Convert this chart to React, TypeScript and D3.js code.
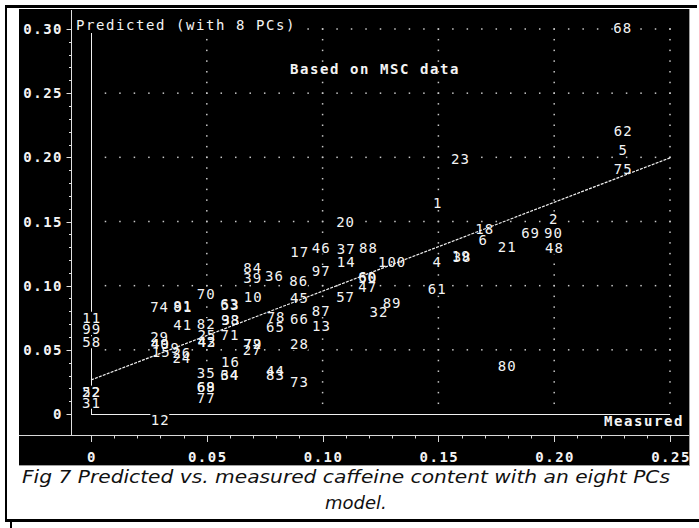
import React from "react";
import * as d3 from "d3";

// ---- data (sample id, measured caffeine, predicted caffeine) ----
const sampleIds = [
  "68", "62", "5", "75", "2", "90", "48", "69", "23", "1",
  "18", "6", "21", "4", "19", "38", "100", "88", "61", "47",
  "60", "50", "89", "32", "20", "17", "46", "37", "14", "84",
  "39", "36", "86", "97", "57", "10", "45", "63", "53", "70",
  "87", "78", "65", "66", "13", "98", "33", "82", "41", "74",
  "81", "91", "71", "11", "99", "58", "29", "25", "42", "43",
  "40", "49", "15", "9", "26", "24", "35", "68", "69", "77",
  "22", "52", "31", "12", "16", "64", "34", "72", "79", "27",
  "28", "44", "83", "73", "80"
];
const measured = [
  0.2294, 0.2296, 0.2296, 0.2296, 0.1996, 0.1995, 0.1999, 0.1896, 0.1593, 0.1495,
  0.1698, 0.1691, 0.1795, 0.1493, 0.1596, 0.1600, 0.1298, 0.1196, 0.1493, 0.1193,
  0.1192, 0.1194, 0.1298, 0.1241, 0.1097, 0.0899, 0.0992, 0.1100, 0.1100, 0.0696,
  0.0696, 0.0790, 0.0895, 0.0992, 0.1097, 0.0698, 0.0898, 0.0597, 0.0599, 0.0495,
  0.0992, 0.0797, 0.0794, 0.0898, 0.0993, 0.0600, 0.0602, 0.0495, 0.0394, 0.0294,
  0.0394, 0.0395, 0.0598, 0.0001, 0.0001, 0.0001, 0.0294, 0.0498, 0.0498, 0.0499,
  0.0297, 0.0298, 0.0301, 0.0361, 0.0390, 0.0390, 0.0495, 0.0495, 0.0496, 0.0495,
  0.0000, 0.0001, 0.0000, 0.0297, 0.0600, 0.0597, 0.0598, 0.0696, 0.0697, 0.0694,
  0.0898, 0.0794, 0.0794, 0.0898, 0.1795
];
const predicted = [
  0.3005, 0.2205, 0.2057, 0.1909, 0.1520, 0.1408, 0.1294, 0.1408, 0.1985, 0.1642,
  0.1439, 0.1356, 0.1304, 0.1187, 0.1234, 0.1227, 0.1187, 0.1294, 0.0972, 0.0987,
  0.1065, 0.1061, 0.0867, 0.0797, 0.1494, 0.1265, 0.1296, 0.1283, 0.1182, 0.1135,
  0.1057, 0.1075, 0.1036, 0.1114, 0.0914, 0.0914, 0.0902, 0.0857, 0.0853, 0.0933,
  0.0803, 0.0754, 0.0680, 0.0740, 0.0686, 0.0732, 0.0736, 0.0699, 0.0694, 0.0831,
  0.0842, 0.0830, 0.0612, 0.0750, 0.0662, 0.0559, 0.0602, 0.0616, 0.0563, 0.0560,
  0.0545, 0.0542, 0.0485, 0.0514, 0.0473, 0.0434, 0.0317, 0.0213, 0.0210, 0.0122,
  0.0174, 0.0172, 0.0088, -0.0047, 0.0408, 0.0304, 0.0301, 0.0545, 0.0542, 0.0499,
  0.0545, 0.0335, 0.0304, 0.0252, 0.0374
];

const xTickValues = [0, 0.05, 0.1, 0.15, 0.2, 0.25];
const xTickLabels = ["0", "0.05", "0.10", "0.15", "0.20", "0.25"];
const yTickValues = [0, 0.05, 0.1, 0.15, 0.2, 0.25, 0.3];
const yTickLabels = ["0", "0.05", "0.10", "0.15", "0.20", "0.25", "0.30"];
const fitMeasured = [0, 0.25];
const fitPredicted = [0.0265, 0.1996];

const yLabel = "Predicted (with 8 PCs)";
const xLabel = "Measured";
const note = "Based on MSC data";
const captionLine1 = "Fig 7 Predicted vs. measured caffeine content with an eight PCs";
const captionLine2 = "model.";

const MONO = "'DejaVu Sans Mono', monospace";

export default function App() {
  const x = d3.scaleLinear().domain([0, 0.25]).range([91, 670]);
  const y = d3.scaleLinear().domain([0, 0.3]).range([414, 29]);

  const minorY = d3.range(0, 31).map((i) => i / 100);
  const minorX = d3.range(0, 26).map((i) => i / 100);

  const hDots: [number, number][] = [];
  yTickValues.slice(1).forEach((v) => {
    for (let k = 1; k <= 40; k++) hDots.push([x((k * 0.25) / 40), y(v)]);
  });
  const vDots: [number, number][] = [];
  xTickValues.slice(1).forEach((v) => {
    for (let k = 1; k <= 36; k++) vDots.push([x(v), y((k * 0.05) / 6)]);
  });

  const line = d3
    .line<number>()
    .x((d) => x(fitMeasured[d]))
    .y((d) => y(fitPredicted[d]));

  const charW = 9.43;

  return (
    <svg
      width={699}
      height={528}
      style={{ position: "absolute", left: 0, top: 0 }}
      xmlns="http://www.w3.org/2000/svg"
    >
      <rect x={0} y={0} width={699} height={528} fill="#fff" />
      {/* page frame */}
      <line x1={5} x2={697} y1={6.5} y2={6.5} stroke="#000" strokeWidth={3} />
      <line x1={6} x2={6} y1={5} y2={522} stroke="#000" strokeWidth={2} />
      <line x1={5} x2={699} y1={520.5} y2={520.5} stroke="#000" strokeWidth={3} />
      <line x1={11} x2={11} y1={522} y2={528} stroke="#000" strokeWidth={2} />

      {/* chart background */}
      <rect x={19} y={9} width={670} height={456} fill="#000" />
      <line x1={689.5} x2={689.5} y1={9} y2={466} stroke="#a0a0a0" strokeWidth={1} />
      <line x1={19} x2={690} y1={465.5} y2={465.5} stroke="#a0a0a0" strokeWidth={1} />

      {/* dotted grid */}
      {hDots.map(([cx, cy], i) => (
        <rect key={"h" + i} x={cx - 0.75} y={cy - 0.75} width={1.5} height={1.5} fill="#c8c8c8" />
      ))}
      {vDots.map(([cx, cy], i) => (
        <rect key={"v" + i} x={cx - 0.75} y={cy - 0.75} width={1.5} height={1.5} fill="#c8c8c8" />
      ))}

      {/* y axis */}
      <line x1={71.5} x2={71.5} y1={10} y2={435} stroke="#e0e0e0" strokeWidth={1} />
      {minorY.map((v, i) => (
        <line
          key={"yt" + i}
          x1={i % 5 === 0 ? 66.5 : 69}
          x2={71}
          y1={Math.round(y(v)) + 0.5}
          y2={Math.round(y(v)) + 0.5}
          stroke="#e0e0e0"
          strokeWidth={1}
        />
      ))}
      {yTickValues.map((v, i) => (
        <text
          key={"yl" + i}
          x={63}
          y={y(v) + 5}
          textAnchor="end"
          fill="#f4f4f4"
          fontFamily={MONO}
          fontWeight="bold"
          fontSize={14}
          letterSpacing={1.5}
        >
          {yTickLabels[i]}
        </text>
      ))}

      {/* x axis strip */}
      <line x1={19} x2={689} y1={435.5} y2={435.5} stroke="#d8d8d8" strokeWidth={1} />
      {minorX.map((v, i) => (
        <line
          key={"xt" + i}
          x1={Math.round(x(v)) + 0.5}
          x2={Math.round(x(v)) + 0.5}
          y1={436}
          y2={i % 5 === 0 ? 442 : 438.5}
          stroke="#d8d8d8"
          strokeWidth={1}
        />
      ))}
      {xTickValues.map((v, i) => (
        <text
          key={"xl" + i}
          x={x(v) + 1}
          y={462}
          textAnchor="middle"
          fill="#f4f4f4"
          fontFamily={MONO}
          fontWeight="bold"
          fontSize={14}
          letterSpacing={1.5}
        >
          {xTickLabels[i]}
        </text>
      ))}

      {/* origin frame */}
      <line x1={91.5} x2={91.5} y1={33} y2={415} stroke="#f0f0f0" strokeWidth={1} />
      <line x1={91} x2={670} y1={414.5} y2={414.5} stroke="#f0f0f0" strokeWidth={1} />

      {/* label backgrounds */}
      {sampleIds.map((id, i) => {
        const w = id.length * charW;
        return (
          <rect
            key={"lb" + i}
            x={x(measured[i]) - w / 2}
            y={y(predicted[i]) - 6}
            width={w}
            height={12}
            fill="#000"
          />
        );
      })}
      <rect x={74} y={17} width={224} height={16} fill="#000" />

      {/* regression line */}
      <path
        d={line([0, 1]) || ""}
        fill="none"
        stroke="#f0f0f0"
        strokeWidth={1.2}
        strokeDasharray="3 1.2"
      />

      {/* sample labels */}
      {sampleIds.map((id, i) => (
        <text
          key={"l" + i}
          x={x(measured[i]) + 0.5}
          y={y(predicted[i]) + 5}
          textAnchor="middle"
          fill="#f4f4f4"
          fontFamily={MONO}
          fontSize={14}
          letterSpacing={1}
        >
          {id}
        </text>
      ))}

      {/* titles */}
      <text x={76} y={30} fill="#f4f4f4" fontFamily={MONO} fontSize={14} letterSpacing={1.57}>
        {yLabel}
      </text>
      <text x={290} y={74} fill="#f4f4f4" fontFamily={MONO} fontWeight="bold" fontSize={14} letterSpacing={1.57}>
        {note}
      </text>
      <text x={604} y={426} fill="#f4f4f4" fontFamily={MONO} fontWeight="bold" fontSize={14} letterSpacing={1.57}>
        {xLabel}
      </text>

      {/* caption */}
      <text
        x={22}
        y={483}
        fill="#111"
        fontFamily="'DejaVu Sans', Verdana, sans-serif"
        fontStyle="italic"
        fontSize={18}
        textLength={648}
        lengthAdjust="spacingAndGlyphs"
      >
        {captionLine1}
      </text>
      <text
        x={325}
        y={509}
        fill="#111"
        fontFamily="'DejaVu Sans', Verdana, sans-serif"
        fontStyle="italic"
        fontSize={18}
      >
        {captionLine2}
      </text>
    </svg>
  );
}
